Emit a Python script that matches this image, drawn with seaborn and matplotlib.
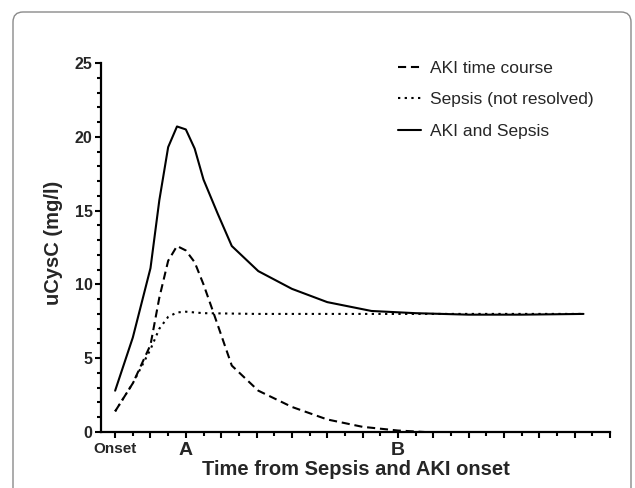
"""
uCysC time course after sepsis / AKI onset (schematic curves).

Output:
    out.png
"""

import matplotlib.pyplot as plt
import numpy as np
import pandas as pd
import seaborn as sns
from matplotlib.patches import FancyBboxPatch
from matplotlib.ticker import MultipleLocator

# values
aki_x = [0, 1, 2, 2.5, 3, 3.5, 4, 4.5, 5, 5.5, 6.6, 8.1, 10, 12, 14, 16, 17.5]
aki_y = [1.4, 3.3, 5.9, 9.1, 11.6, 12.6, 12.3, 11.5, 10.0, 8.3, 4.5, 2.8, 1.7,
         0.85, 0.35, 0.1, 0.0]

sepsis_x = [0, 1, 2, 2.5, 3, 3.5, 4, 5, 8, 12, 16, 20, 24, 26.5]
sepsis_y = [1.4, 3.3, 5.6, 7.0, 7.8, 8.1, 8.15, 8.05, 8.0, 8.0, 8.0, 8.0, 8.0, 8.0]

both_x = [0, 1, 2, 2.5, 3, 3.5, 4, 4.5, 5, 5.8, 6.6, 8.1, 10, 12, 14.5, 17, 20,
          23, 26.5]
both_y = [2.8, 6.4, 11.1, 15.7, 19.3, 20.7, 20.5, 19.2, 17.1, 14.8, 12.6, 10.9,
          9.7, 8.8, 8.2, 8.05, 7.95, 7.95, 8.0]

series_labels = ["AKI time course", "Sepsis (not resolved)", "AKI and Sepsis"]
tick_pos = [0, 4, 16]
tick_names = ["Onset", "A", "B"]

sns.set_style("ticks")
plt.rcParams["font.family"] = ["Liberation Sans", "DejaVu Sans"]

fig = plt.figure(figsize=(6.35, 4.88), dpi=100)
ax = fig.add_axes([101 / 635, 1 - 432 / 488, 509 / 635, 369 / 488])

# rounded panel frame, cut off at the bottom edge
frame = FancyBboxPatch(
    (0.13, -0.3), 6.18, 5.06,
    boxstyle="round,pad=0,rounding_size=0.1",
    transform=fig.dpi_scale_trans,
    facecolor="none", edgecolor="#8a8a8a", linewidth=1.0, zorder=0,
)
fig.add_artist(frame)

styles = [(0, (3.9, 2.3)), (0, (1.1, 2.1)), "-"]
curves = [(aki_x, aki_y), (sepsis_x, sepsis_y), (both_x, both_y)]
for (xs, ys), label, ls in zip(curves, series_labels, styles):
    df = pd.DataFrame({"time": xs, "ucysc": ys})
    sns.lineplot(data=df, x="time", y="ucysc", ax=ax, color="black",
                 linewidth=1.5, linestyle=ls, label=label, sort=False,
                 estimator=None)

ax.set_xlim(-0.8, 28)
ax.set_ylim(0, 25)
sns.despine(ax=ax)
for side in ("left", "bottom"):
    ax.spines[side].set_linewidth(1.6)
    ax.spines[side].set_color("black")

major = np.arange(0, 29, 2)
ax.set_xticks(major)
ax.set_xticklabels([tick_names[tick_pos.index(t)] if t in tick_pos else ""
                    for t in major])
ax.xaxis.set_minor_locator(MultipleLocator(1))
ax.yaxis.set_major_locator(MultipleLocator(5))
ax.yaxis.set_minor_locator(MultipleLocator(1))

ax.tick_params(axis="both", which="major", direction="out", length=4,
               width=1.5, color="black")
ax.tick_params(axis="both", which="minor", direction="out", length=2.8,
               width=1.5, color="black")
ax.tick_params(axis="x", which="major", pad=3.5)
ax.tick_params(axis="y", which="major", pad=2, labelsize=11.5)

for lbl in ax.get_yticklabels():
    lbl.set_fontweight("bold")
for lbl in ax.get_xticklabels():
    lbl.set_fontweight("bold")
    lbl.set_fontsize(11 if lbl.get_text() == "Onset" else 14)

ax.set_xlabel("Time from Sepsis and AKI onset", fontsize=14.5,
              fontweight="bold")
ax.set_ylabel("uCysC (mg/l)", fontsize=14.5, fontweight="bold")
ax.xaxis.set_label_coords(0.5, -0.076)
ax.yaxis.set_label_coords(-0.075, 0.513)

ax.legend(loc="upper left", bbox_to_anchor=(398 / 635, 1 - 61 / 488),
          bbox_transform=fig.transFigure, frameon=False, fontsize=12.5,
          handlelength=1.3, handletextpad=0.55, labelspacing=0.93,
          borderpad=0, borderaxespad=0)

fig.savefig("out.png", dpi=100)
plt.close(fig)
